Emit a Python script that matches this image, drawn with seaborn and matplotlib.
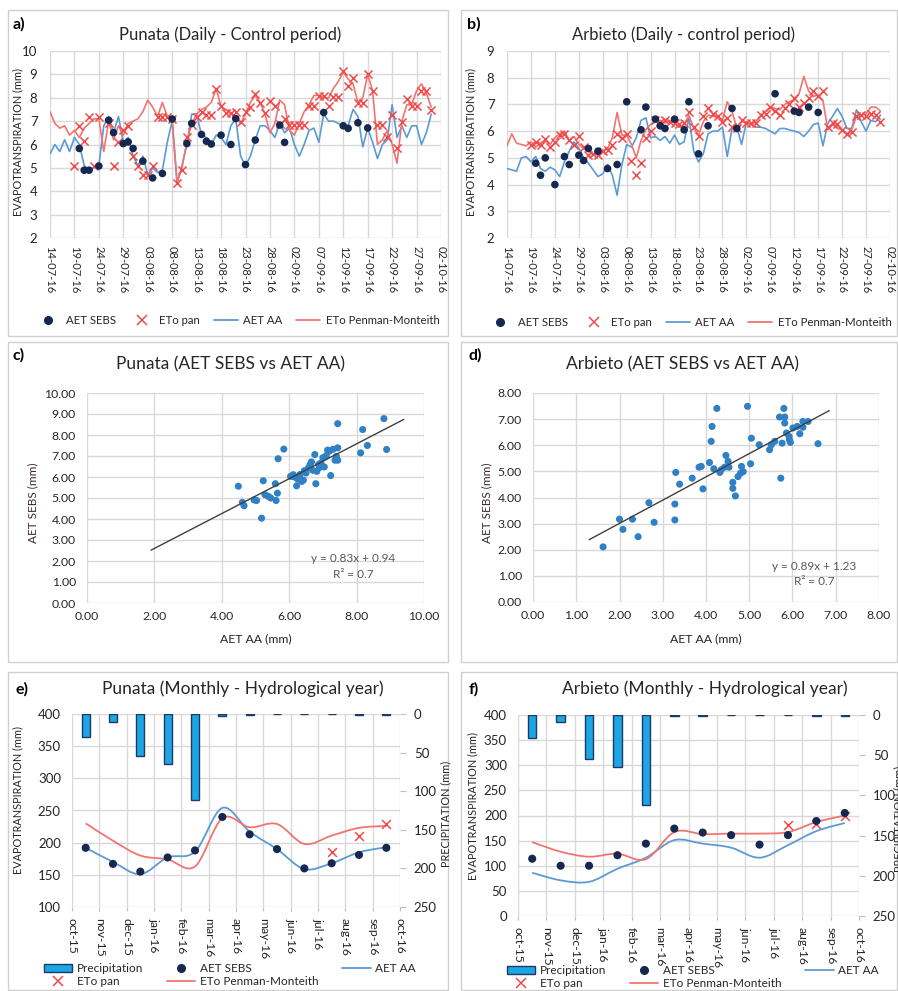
import numpy as np
import matplotlib
matplotlib.use("Agg")
import matplotlib.pyplot as plt
import seaborn as sns
from matplotlib.lines import Line2D
from matplotlib.patches import Patch, Rectangle, PathPatch
from matplotlib.path import Path

# ---------------- data ----------------
daily_ticks = ["14-07-16", "19-07-16", "24-07-16", "29-07-16", "03-08-16", "08-08-16",
               "13-08-16", "18-08-16", "23-08-16", "28-08-16", "02-09-16", "07-09-16",
               "12-09-16", "17-09-16", "22-09-16", "27-09-16", "02-10-16"]

# Punata daily (day offset from 14-07-16)
aa_a = [5.6, 6.0, 5.7, 6.2, 5.7, 6.3, 6.0, 5.1, 4.9, 5.0,
        5.1, 6.8, 7.2, 6.5, 7.2, 6.1, 6.3, 5.5, 5.1, 5.5,
        4.7, 5.0, 4.8, 4.9, 6.1, 7.0, 4.3, 5.1, 6.0, 7.3,
        7.3, 6.4, 6.3, 6.0, 6.4, 6.3, 6.0, 6.8, 7.1, 5.5,
        5.1, 5.5, 6.2, 6.8, 6.8, 6.6, 6.3, 6.9, 6.5, 6.7,
        6.0, 5.5, 6.0, 6.6, 6.7, 6.1, 7.3, 7.0, 7.0, 6.9,
        6.8, 6.8, 7.5, 7.2, 5.9, 6.7, 6.1, 5.4, 6.0, 6.2,
        7.7, 6.3, 6.8, 6.3, 6.8, 6.8, 6.0, 6.5, 7.3]
pm_a = [7.4, 6.9, 6.7, 6.8, 6.4, 6.6, 6.3, 6.7, 6.9, 7.1,
        7.1, 5.7, 7.0, 6.2, 6.8, 6.4, 6.9, 7.0, 7.1, 7.4,
        7.9, 7.6, 7.2, 7.8, 7.2, 7.1, 4.4, 5.0, 6.1, 6.9,
        7.3, 7.5, 7.6, 7.8, 8.4, 7.6, 7.5, 7.3, 7.2, 6.9,
        7.3, 7.8, 8.1, 7.8, 7.3, 6.5, 6.9, 7.9, 7.7, 6.6,
        6.4, 6.9, 7.4, 7.7, 8.1, 8.1, 8.0, 8.0, 8.4, 8.7,
        9.1, 8.8, 8.6, 7.8, 8.0, 9.0, 8.3, 6.0, 6.2, 6.6,
        6.0, 5.2, 7.0, 7.7, 7.7, 8.3, 8.6, 8.2, 7.6]
sebs_a_day = [6, 7, 8, 10, 12, 13, 15, 16, 17, 19, 21, 23, 25, 28, 29, 31, 32, 33,
              35, 37, 38, 40, 42, 47, 48, 56, 60, 61, 63, 65]
sebs_a = [5.83, 4.90, 4.90, 5.08, 7.04, 6.51, 6.04, 6.11, 5.83, 5.29, 4.57, 4.76, 7.09,
          6.04, 6.90, 6.43, 6.14, 6.02, 6.40, 6.00, 7.11, 5.14, 6.19, 6.83, 6.09, 7.37,
          6.80, 6.69, 6.93, 6.71]
pan_a_day = [5, 6, 7, 8, 9, 10, 12, 13, 14, 15, 16, 17, 18, 19, 20, 21, 22, 23, 24, 25,
             26, 27, 28, 29, 30, 31, 32, 33, 34, 35, 36, 37, 38, 39, 40, 41, 42, 43, 44,
             45, 46, 47, 48, 49, 50, 51, 52, 53, 54, 55, 56, 57, 58, 59, 60, 61, 62, 63,
             64, 65, 66, 67, 68, 69, 70, 71, 72, 73, 74, 75, 76, 77, 78]
pan_a = [5.09, 6.79, 6.14, 7.16, 5.09, 7.16, 6.93, 5.09, 6.11, 6.64, 6.79, 5.50, 5.09,
         4.69, 4.69, 5.09, 7.16, 7.16, 7.16, 7.10, 4.36, 4.90, 6.33, 6.83, 7.19, 7.40,
         7.26, 7.26, 8.36, 7.64, 7.36, 7.36, 7.40, 6.97, 7.40, 7.59, 8.16, 7.76, 7.36,
         7.87, 7.64, 6.87, 7.11, 6.83, 6.83, 6.83, 6.83, 7.64, 7.64, 8.07, 8.07, 7.64,
         8.04, 8.04, 9.14, 8.50, 8.83, 7.76, 7.76, 9.01, 8.30, 6.83, 6.83, 6.30, 7.26,
         5.83, 6.97, 7.93, 7.64, 7.64, 8.30, 8.30, 7.47]

# Arbieto daily
aa_b = [4.6, 4.55, 4.5, 5.0, 5.05, 4.85, 5.05, 4.6, 4.5, 4.65,
        4.55, 4.3, 4.85, 5.25, 5.6, 5.35, 5.0, 4.8, 4.55, 4.3,
        4.4, 4.75, 4.35, 3.6, 4.75, 5.5, 5.4, 5.75, 6.4, 6.5,
        5.75, 5.8, 5.65, 5.8, 5.55, 5.85, 5.5, 5.6, 6.5, 5.25,
        4.85, 5.15, 5.9, 6.0, 6.0, 6.15, 5.05, 6.1, 6.15, 5.5,
        6.35, 6.25, 6.15, 6.15, 6.1, 6.0, 5.9, 6.1, 6.1, 6.05,
        6.0, 5.95, 5.8, 6.0, 6.25, 6.3, 5.45, 6.3, 6.55, 6.85,
        6.55, 6.1, 6.1, 6.8, 6.35, 6.0, 6.4, 6.35, 6.6]
pm_b = [5.45, 5.9, 5.55, 5.5, 5.45, 5.6, 5.4, 5.55, 5.65, 5.5,
        5.75, 5.9, 6.0, 5.65, 5.8, 5.5, 5.35, 5.25, 5.1, 5.15,
        5.25, 5.35, 5.75, 6.7, 5.85, 5.85, 5.5, 5.0, 5.65, 6.05,
        6.25, 6.35, 6.4, 6.3, 6.4, 6.3, 6.15, 6.25, 6.6, 6.1,
        5.85, 6.35, 6.6, 6.55, 6.55, 6.4, 7.1, 6.75, 6.1, 6.35,
        6.35, 6.25, 6.35, 6.6, 6.75, 6.9, 6.85, 6.8, 7.0, 7.1,
        7.15, 7.4, 8.05, 7.5, 7.3, 7.35, 7.15, 6.05, 6.25, 6.1,
        6.05, 5.9, 6.05, 6.55, 6.6, 6.65, 6.9, 6.9, 6.75]
sebs_b_day = [6, 7, 8, 10, 12, 13, 15, 16, 17, 19, 21, 23, 25, 28, 29, 31, 32, 33, 35,
              37, 38, 40, 42, 47, 48, 56, 60, 61, 63, 65]
sebs_b = [4.80, 4.35, 5.00, 4.00, 5.05, 4.75, 5.10, 4.90, 5.35, 5.25, 4.60, 4.75, 7.10,
          6.05, 6.90, 6.45, 6.20, 6.10, 6.45, 6.05, 7.10, 5.15, 6.20, 6.85, 6.10, 7.40,
          6.75, 6.70, 6.90, 6.70]
pan_b_day = [5, 6, 7, 8, 9, 10, 11, 12, 13, 14, 15, 16, 17, 18, 19, 20, 21, 22, 23, 24,
             25, 26, 27, 28, 29, 30, 31, 32, 33, 34, 35, 36, 37, 38, 39, 40, 41, 42, 43,
             44, 45, 46, 47, 48, 49, 50, 51, 52, 53, 54, 55, 56, 57, 58, 59, 60, 61, 62,
             63, 64, 65, 66, 67, 68, 69, 70, 71, 72, 73, 74, 75, 76, 77, 78]
pan_b = [5.50, 5.60, 5.50, 5.70, 5.40, 5.60, 5.85, 5.90, 5.65, 5.50, 5.80, 5.40, 5.10,
         5.15, 5.10, 5.25, 5.30, 5.50, 5.90, 5.75, 5.90, 4.90, 4.35, 4.80, 5.75, 6.00,
         6.40, 6.35, 6.40, 6.35, 6.30, 6.25, 6.30, 6.70, 6.15, 5.80, 6.55, 6.85, 6.65,
         6.55, 6.35, 6.50, 6.15, 6.10, 6.40, 6.30, 6.30, 6.30, 6.60, 6.65, 6.90, 6.75,
         6.60, 6.85, 7.00, 7.25, 6.90, 7.05, 7.25, 7.50, 7.30, 7.50, 6.15, 6.30, 6.25,
         6.05, 5.90, 5.95, 6.55, 6.60, 6.55, 6.65, 6.60, 6.35]

# scatter (AET AA vs AET SEBS)
aa_c = [4.49, 4.61, 4.66, 4.96, 5.03, 5.18, 5.23, 5.28, 5.38, 5.45, 5.59, 5.61, 5.65,
        5.67, 5.84, 6.04, 6.12, 6.22, 6.25, 6.29, 6.37, 6.50, 6.57, 6.62, 6.70, 6.76,
        6.79, 6.82, 6.87, 6.94, 7.04, 7.14, 7.19, 7.23, 7.36, 7.44, 7.44, 7.44, 8.12,
        8.18, 8.32, 8.81, 8.89, 6.15, 6.32, 6.45, 6.66, 6.90, 7.00, 7.10, 7.30, 6.42,
        7.40]
sebs_c = [5.56, 4.79, 4.63, 4.91, 4.88, 4.04, 5.82, 5.16, 5.08, 5.00, 5.68, 4.88, 5.23,
          6.87, 7.33, 6.03, 6.11, 5.58, 5.90, 6.03, 5.79, 6.19, 6.43, 6.59, 6.32, 7.07,
          5.68, 6.27, 6.59, 6.67, 6.48, 7.28, 7.23, 6.07, 6.80, 6.80, 8.54, 7.39, 7.15,
          8.26, 7.50, 8.78, 7.31, 6.00, 6.12, 6.30, 6.72, 6.45, 6.92, 7.02, 7.32, 5.85,
          6.98]
fit_c = (0.83, 0.94)
fit_c_range = [1.9, 9.4]

aa_d = [1.62, 2.00, 2.08, 2.30, 2.43, 2.68, 2.80, 3.28, 3.28, 3.30, 3.39, 3.68, 3.84,
        3.89, 3.93, 4.08, 4.12, 4.14, 4.18, 4.25, 4.32, 4.35, 4.43, 4.46, 4.51, 4.53,
        4.62, 4.62, 4.68, 4.74, 4.80, 4.82, 4.86, 4.96, 5.03, 5.05, 5.23, 5.47, 5.51,
        5.59, 5.70, 5.73, 5.76, 5.80, 5.82, 5.82, 5.86, 5.92, 5.93, 5.95, 6.01, 6.11,
        6.17, 6.24, 6.24, 6.36, 6.59]
sebs_d = [2.11, 3.17, 2.78, 3.17, 2.50, 3.80, 3.05, 3.14, 3.75, 4.96, 4.51, 4.74, 5.16,
          5.19, 4.33, 5.34, 6.15, 6.72, 5.10, 7.41, 4.96, 5.06, 5.16, 5.61, 5.38, 5.16,
          4.58, 4.35, 4.06, 4.80, 4.93, 5.19, 4.99, 7.49, 5.29, 6.27, 6.02, 5.83, 6.02,
          6.15, 7.08, 4.74, 6.08, 7.41, 7.08, 6.85, 6.47, 6.34, 6.21, 6.11, 6.66, 6.72,
          6.44, 6.69, 6.91, 6.91, 6.06]
fit_d = (0.89, 1.23)
fit_d_range = [1.3, 6.85]

# monthly hydrological year
month_ticks = ["oct-15", "nov-15", "dec-15", "jan-16", "feb-16", "mar-16", "apr-16",
               "may-16", "jun-16", "jul-16", "aug-16", "sep-16", "oct-16"]
nan = np.nan
precip_e = [30, 10, 55, 65, 112, 2, 1, 0, 0, 0, 1, 1]
sebs_e = [192, 167, 155, 177, 188, 240, 213, 190, 160, 168, 181, 192]
pan_e = [nan, nan, nan, nan, nan, nan, nan, nan, nan, 186, 211, 229]
aa_e = [192, 170, 151, 177, 186, 254, 217, 190, 159, 168, 185, 193]
pm_e = [230, 203, 180, 174, 163, 238, 224, 229, 198, 211, 223, 226]

precip_f = [29, 9, 55, 65, 112, 1, 1, 0, 0, 0, 1, 1]
sebs_f = [114, 100, 100, 121, 144, 174, 166, 161, 142, 161, 189, 205]
pan_f = [nan, nan, nan, nan, nan, nan, nan, nan, nan, 181, 184, 199]
aa_f = [86, 71, 68, 94, 116, 151, 144, 136, 116, 141, 169, 185]
pm_f = [147, 128, 118, 124, 113, 167, 163, 164, 164, 167, 187, 200]

# ---------------- style ----------------
sns.set_theme(style="white")
plt.rcParams["font.family"] = ["Lato", "DejaVu Sans"]
plt.rcParams["axes.unicode_minus"] = False

NAVY = "#15284F"
RED_X = "#F04B4B"
PM_RED = "#F27471"
BLUE = "#5B9BD5"
SCAT = "#2F80C4"
GRID = "#D9D9D9"
BAR = "#1CA6E3"
BAR_EDGE = "#1F3864"
TXT = "#262626"

W, H = 898, 991
fig = plt.figure(figsize=(W / 100, H / 100), dpi=100)
fig.patch.set_facecolor("white")


def box(l, t, r, b):
    return [l / W, 1 - b / H, (r - l) / W, (b - t) / H]


def ftext(x, y, s, **kw):
    kw.setdefault("ha", "center")
    kw.setdefault("va", "center")
    kw.setdefault("color", TXT)
    fig.text(x / W, 1 - y / H, s, **kw)


def frame(l, t, r, b):
    fig.add_artist(Rectangle((l / W, 1 - b / H), (r - l) / W, (b - t) / H,
                             transform=fig.transFigure, fill=False,
                             edgecolor="#D0D0D0", lw=1.0))


for rect in [(8, 10, 448, 336), (461, 10, 897, 336), (8, 342, 448, 662),
             (461, 342, 897, 662), (8, 672, 448, 990), (461, 672, 897, 990)]:
    frame(*rect)


def base_axes(ax):
    for s in ax.spines.values():
        s.set_visible(False)
    ax.grid(True, color=GRID, lw=1.0)
    ax.set_axisbelow(True)
    ax.set_xlabel("")
    ax.set_ylabel("")


def smooth(ax, x, y, color, lw):
    pts = np.column_stack([np.asarray(x, float), np.asarray(y, float)])
    n = len(pts)
    verts = [pts[0]]
    codes = [Path.MOVETO]
    for i in range(n - 1):
        p0 = pts[i - 1] if i > 0 else pts[i]
        p1, p2 = pts[i], pts[i + 1]
        p3 = pts[i + 2] if i + 2 < n else pts[i + 1]
        verts += [p1 + (p2 - p0) / 6.0, p2 - (p3 - p1) / 6.0, p2]
        codes += [Path.CURVE4] * 3
    ax.add_patch(PathPatch(Path(verts, codes), fill=False, edgecolor=color, lw=lw,
                           zorder=2))


daily_handles = [
    Line2D([], [], marker="o", ls="", color=NAVY, markersize=5.5),
    Line2D([], [], marker="x", ls="", color=RED_X, markersize=7, mew=1.1),
    Line2D([], [], color=BLUE, lw=1.3),
    Line2D([], [], color=PM_RED, lw=1.3),
]
daily_labels = ["AET SEBS", "ETo pan", "AET AA", "ETo Penman-Monteith"]


def daily(rect, aa, pm, sd, sv, pd_, pv, ylo, yhi, title, label, lx, tx, legx, legy):
    ax = fig.add_axes(box(*rect))
    days = np.arange(len(aa))
    sns.lineplot(x=days, y=aa, ax=ax, color=BLUE, lw=1.2, zorder=2)
    sns.lineplot(x=days, y=pm, ax=ax, color=PM_RED, lw=1.2, zorder=2)
    sns.scatterplot(x=pd_, y=pv, ax=ax, marker="x", color=RED_X, s=34, linewidth=1.1,
                    zorder=3)
    sns.scatterplot(x=sd, y=sv, ax=ax, color=NAVY, s=30, edgecolor="none", zorder=4)
    base_axes(ax)
    ax.set_xlim(0, 80)
    ax.set_ylim(ylo, yhi)
    ax.set_xticks(range(0, 81, 5))
    ax.set_xticklabels(daily_ticks, rotation=-90, fontsize=8)
    ax.set_yticks(range(ylo, yhi + 1))
    ax.tick_params(axis="y", length=0, pad=9, labelsize=9.5, labelcolor=TXT)
    ax.tick_params(axis="x", length=0, pad=6, labelcolor=TXT)
    l, t, r, b = rect
    ftext(lx, (t + b) / 2 - 2, "EVAPOTRANSPIRATION (mm)", rotation=90, fontsize=7.8)
    ftext(tx, 35, title, fontsize=12)
    ftext(label[1], 24, label[0], fontsize=11.5, fontweight="bold", color="black")
    fig.legend(daily_handles, daily_labels, loc="center",
               bbox_to_anchor=(legx / W, 1 - legy / H), ncol=4, frameon=False,
               fontsize=8.2, handlelength=2.1, columnspacing=1.2, handletextpad=0.5,
               labelcolor=TXT)
    return ax


daily((50, 51, 441, 238), aa_a, pm_a, sebs_a_day, sebs_a, pan_a_day, pan_a, 2, 10,
      "Punata (Daily - Control period)", ("a)", 19), 18, 230, 238, 320)
daily((507, 51, 890, 238), aa_b, pm_b, sebs_b_day, sebs_b, pan_b_day, pan_b, 2, 9,
      "Arbieto (Daily - control period)", ("b)", 474), 471, 683, 690, 322)


def scatter(rect, xs, ys, fit, frange, xmax, xstep, ymax, title, label, lx, tx, eq_xy):
    ax = fig.add_axes(box(*rect))
    sns.scatterplot(x=xs, y=ys, ax=ax, color=SCAT, s=26, edgecolor="none", zorder=3)
    fx = np.array(frange)
    sns.lineplot(x=fx, y=fit[0] * fx + fit[1], ax=ax, color="#3F3F3F", lw=1.0, zorder=4)
    base_axes(ax)
    ax.set_xlim(0, xmax)
    ax.set_ylim(0, ymax)
    ax.set_xticks(np.arange(0, xmax + 0.01, xstep))
    ax.set_yticks(np.arange(0, ymax + 0.01, 1))
    ax.xaxis.set_major_formatter(plt.FuncFormatter(lambda v, p: f"{v:.2f}"))
    ax.yaxis.set_major_formatter(plt.FuncFormatter(lambda v, p: f"{v:.2f}"))
    ax.tick_params(axis="y", length=0, pad=8, labelsize=8.8, labelcolor=TXT)
    ax.tick_params(axis="x", length=0, pad=6, labelsize=8.8, labelcolor=TXT)
    ax.text(eq_xy[0], eq_xy[1], f"y = {fit[0]}x + {fit[1]}\nR² = 0.7", ha="center",
            va="center", fontsize=8.5, color="#595959", linespacing=1.5)
    l, t, r, b = rect
    ftext(lx, (t + b) / 2 + 5, "AET SEBS (mm)", rotation=90, fontsize=8.5,
          color="#3A2A2A")
    ftext((l + r) / 2, 639, "AET AA (mm)", fontsize=8.8)
    ftext(tx, 364, title, fontsize=12.5)
    ftext(label[1], 355, label[0], fontsize=11.5, fontweight="bold", color="black")
    return ax


scatter((87, 393, 424, 603), aa_c, sebs_c, fit_c, fit_c_range, 10, 2, 10,
        "Punata (AET SEBS vs AET AA)", ("c)", 19), 33, 230, (7.9, 1.75))
scatter((533, 393, 879, 602), aa_d, sebs_d, fit_d, fit_d_range, 8, 1, 8,
        "Arbieto (AET SEBS vs AET AA)", ("d)", 475), 487, 683, (6.5, 1.08))

monthly_handles = [
    Patch(facecolor=BAR, edgecolor=BAR_EDGE, lw=1.0),
    Line2D([], [], marker="x", ls="", color=RED_X, markersize=7, mew=1.1),
    Line2D([], [], marker="o", ls="", color=NAVY, markersize=5.5),
    Line2D([], [], color=PM_RED, lw=1.3),
    Line2D([], [], color=BLUE, lw=1.3),
]
monthly_labels = ["Precipitation", "ETo pan", "AET SEBS", "ETo Penman-Monteith", "AET AA"]


def monthly(rect, precip, sebs, pan, aa, pm, ylo, title, label, lx, rx, tx, legx, legy):
    ax = fig.add_axes(box(*rect))
    pos = np.arange(len(sebs)) + 0.5
    smooth(ax, pos, aa, BLUE, 1.3)
    smooth(ax, pos, pm, PM_RED, 1.3)
    sns.scatterplot(x=pos, y=pan, ax=ax, marker="x", color=RED_X, s=40, linewidth=1.1,
                    zorder=3)
    sns.scatterplot(x=pos, y=sebs, ax=ax, color=NAVY, s=34, edgecolor="none", zorder=4)
    base_axes(ax)
    ax.set_xlim(0, 12)
    ax.set_ylim(ylo, 400)
    ax.set_xticks(range(13))
    ax.set_xticklabels(month_ticks, rotation=-90, fontsize=8.8)
    ax.set_yticks(range(ylo, 401, 50))
    ax.tick_params(axis="y", length=0, pad=8, labelsize=9.5, labelcolor=TXT)
    ax.tick_params(axis="x", length=3, width=0.8, color="#BFBFBF", pad=5,
                   labelcolor=TXT, bottom=True)
    ax2 = ax.twinx()
    ax2.bar(pos, precip, width=0.3, color=BAR, edgecolor=BAR_EDGE, lw=1.0, zorder=5)
    ax2.set_ylim(250, 0)
    ax2.set_yticks(range(0, 251, 50))
    for s in ax2.spines.values():
        s.set_visible(False)
    ax2.grid(False)
    ax2.tick_params(axis="y", length=4, width=0.8, color="#BFBFBF", pad=6,
                    labelsize=9.5, labelcolor=TXT)
    l, t, r, b = rect
    ftext(lx, (t + b) / 2 - 10, "EVAPOTRANSPIRATION (mm)", rotation=90, fontsize=7.8)
    ftext(rx, (t + b) / 2 + 3, "PRECIPITATION (mm)", rotation=90, fontsize=7.8)
    ftext(tx, 689, title, fontsize=12.5)
    ftext(label[1], 689, label[0], fontsize=11.5, fontweight="bold", color="black")
    fig.legend(monthly_handles, monthly_labels, loc="center",
               bbox_to_anchor=(legx / W, 1 - legy / H), ncol=3, frameon=False,
               fontsize=8.5, handlelength=2.4, columnspacing=2.0, handletextpad=0.4,
               labelspacing=0.15, labelcolor=TXT)
    return ax


monthly((72, 714, 400, 907), precip_e, sebs_e, pan_e, aa_e, pm_e, 100,
        "Punata (Monthly - Hydrological year)", ("e)", 22), 18, 446, 243, 230, 975)
monthly((518, 715, 859, 916), precip_f, sebs_f, pan_f, aa_f, pm_f, 0,
        "Arbieto (Monthly - Hydrological year)", ("f)", 474), 473, 899, 705, 693, 977)

fig.savefig("out.png", dpi=100, facecolor="white")
